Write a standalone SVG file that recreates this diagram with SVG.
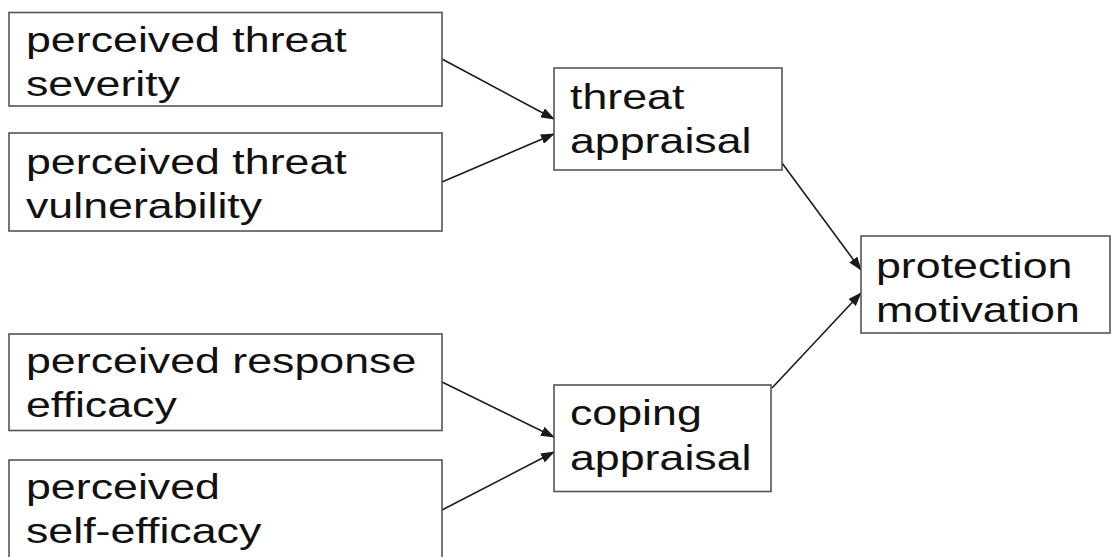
<svg xmlns="http://www.w3.org/2000/svg" width="1112" height="557" viewBox="0 0 1112 557">
<style>
.box{fill:#fff;stroke:#555;stroke-width:1.6}
.lbl{font-family:"Liberation Sans",Arial,Helvetica,sans-serif;font-size:35px;fill:#111}
.edge{stroke:#1a1a1a;stroke-width:1.6;fill:none;marker-end:url(#ah)}
</style>
<defs>
<marker id="ah" markerUnits="userSpaceOnUse" markerWidth="14" markerHeight="10" viewBox="0 0 14 10" refX="13" refY="5" orient="auto">
<path d="M0,0 L14,5 L0,10 z" fill="#1a1a1a"/>
</marker>
</defs>
<rect width="1112" height="557" fill="#fff"/>
<g id="connectors">
<line class="edge" x1="442" y1="59" x2="554" y2="119"/>
<line class="edge" x1="442" y1="182" x2="554" y2="134"/>
<line class="edge" x1="442" y1="382" x2="554" y2="437"/>
<line class="edge" x1="442" y1="510" x2="554" y2="452"/>
<line class="edge" x1="782" y1="163" x2="861" y2="270"/>
<line class="edge" x1="772" y1="388" x2="861" y2="293"/>
</g>
<g id="severity">
<rect class="box" x="9" y="12.5" width="433" height="93.5"/>
<text class="lbl" transform="translate(26 0) scale(1.278 1)"><tspan x="0" y="52">perceived threat</tspan><tspan x="0" y="96.5">severity</tspan></text>
</g>
<g id="vulnerability">
<rect class="box" x="9" y="133" width="433" height="98"/>
<text class="lbl" transform="translate(26 0) scale(1.278 1)"><tspan x="0" y="174">perceived threat</tspan><tspan x="0" y="218.5">vulnerability</tspan></text>
</g>
<g id="response-efficacy">
<rect class="box" x="9" y="334" width="433" height="96.5"/>
<text class="lbl" transform="translate(26 0) scale(1.278 1)"><tspan x="0" y="373">perceived response</tspan><tspan x="0" y="417.5">efficacy</tspan></text>
</g>
<g id="self-efficacy">
<rect class="box" x="9" y="460" width="433" height="110"/>
<text class="lbl" transform="translate(26 0) scale(1.278 1)"><tspan x="0" y="499">perceived</tspan><tspan x="0" y="543.5">self-efficacy</tspan></text>
</g>
<g id="threat-appraisal">
<rect class="box" x="554" y="68" width="228" height="102"/>
<text class="lbl" transform="translate(570 0) scale(1.278 1)"><tspan x="0" y="109">threat</tspan><tspan x="0" y="153.5">appraisal</tspan></text>
</g>
<g id="coping-appraisal">
<rect class="box" x="554" y="385" width="217" height="106.5"/>
<text class="lbl" transform="translate(570 0) scale(1.278 1)"><tspan x="0" y="425.5">coping</tspan><tspan x="0" y="470">appraisal</tspan></text>
</g>
<g id="protection-motivation">
<rect class="box" x="861" y="236" width="249" height="97"/>
<text class="lbl" transform="translate(876 0) scale(1.278 1)"><tspan x="0" y="278">protection</tspan><tspan x="0" y="322">motivation</tspan></text>
</g>
</svg>
